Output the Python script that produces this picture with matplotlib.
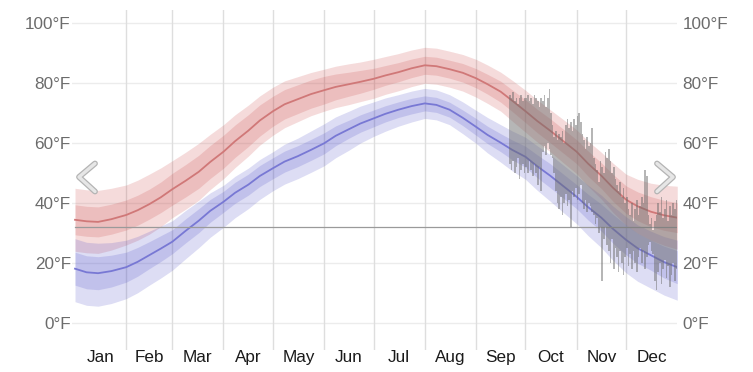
import numpy as np
import matplotlib.pyplot as plt
import matplotlib.patheffects as pe
from matplotlib.lines import Line2D

# day-of-year nodes (0 = Jan 1)
days = [0, 7, 14, 22, 31, 38, 45, 52, 59, 67, 75, 82, 90, 97, 105, 112, 120,
        127, 135, 143, 151, 158, 166, 173, 181, 188, 196, 204, 212, 219, 227,
        235, 243, 250, 258, 265, 273, 280, 288, 296, 304, 311, 319, 326, 334,
        341, 349, 357, 365]

# average daily high / low (deg F)
high_avg = [34.3, 33.8, 33.6, 34.5, 35.9, 37.5, 39.5, 41.8, 44.5, 47.3, 50.3,
            53.6, 57.0, 60.5, 64.0, 67.4, 70.5, 72.8, 74.5, 76.2, 77.5, 78.6,
            79.5, 80.3, 81.3, 82.4, 83.5, 84.8, 85.8, 85.5, 84.5, 83.3, 81.5,
            79.5, 77.0, 74.0, 70.5, 67.3, 64.0, 60.5, 57.0, 53.0, 49.0, 45.0,
            41.0, 38.8, 37.0, 35.8, 35.0]
low_avg = [18.0, 16.8, 16.5, 17.2, 18.5, 20.3, 22.5, 24.7, 27.0, 30.6, 34.0,
           37.3, 40.3, 43.3, 46.0, 48.9, 51.5, 53.7, 55.5, 57.6, 59.8, 62.3,
           64.5, 66.4, 68.1, 69.6, 71.0, 72.2, 73.1, 72.6, 71.0, 68.3, 65.3,
           62.6, 60.0, 57.6, 55.3, 52.2, 49.0, 45.5, 42.0, 38.5, 35.0, 31.3,
           27.6, 24.8, 22.5, 20.2, 18.5]

# band half widths: 10-90 (outer) and 25-75 (inner) percentile
high_outer = [10.5, 10.5, 10.5, 10.3, 10, 10, 10, 9.8, 9.5, 9.5, 9.5, 9.2, 9,
              8.8, 8.5, 8.2, 8, 7.8, 7.5, 7.2, 7, 6.9, 6.8, 6.6, 6.5, 6.3, 6.2,
              6.1, 6, 6, 6, 6.1, 6.3, 6.4, 6.5, 6.8, 7, 7, 7, 7.2, 7.3, 7.5,
              7.8, 8.2, 8.5, 9, 9.5, 10, 10.5]
high_inner = [5, 5, 5, 5, 5, 5, 5, 5.1, 5.3, 5.4, 5.5, 5.5, 5.5, 5.4, 5.3, 5.2,
              5, 4.9, 4.8, 4.7, 4.6, 4.3, 4, 3.8, 3.5, 3.3, 3.2, 3.1, 3, 3, 3,
              3.1, 3.2, 3.3, 3.5, 3.6, 3.8, 3.9, 4, 4, 4, 4.2, 4.3, 4.5, 4.6,
              4.8, 5, 5, 5]
low_outer_up = [10, 10, 10, 9.5, 9, 8.5, 8, 7.5, 7, 6.8, 6.5, 6, 5.5, 5.5, 5.5,
                5.5, 5.5, 5.8, 6, 6.3, 6.5, 6.3, 6, 5.8, 5.5, 5.3, 5, 5, 5, 5,
                5, 5.3, 5.5, 5.8, 6, 6.3, 6.5, 6.8, 7, 7, 7, 7.3, 7.5, 7.6, 7.7,
                7.8, 8, 8.5, 9]
low_outer_dn = [11, 11, 11, 10.8, 10.5, 10.3, 10, 9.8, 9.5, 9.3, 9, 8.8, 8.5,
                8.3, 8, 7.8, 7.5, 7.5, 7.5, 7.5, 7.5, 7.3, 7, 6.5, 6, 5.8, 5.5,
                5.3, 5, 5, 5, 5.3, 5.5, 6, 6.5, 7, 7.5, 8, 8.5, 8.8, 9, 9.5, 10,
                10.5, 11, 11, 11, 11, 11]
low_inner = [5.5, 5.5, 5.5, 5.3, 5, 4.8, 4.5, 4.3, 4, 4, 4, 3.8, 3.5, 3.5, 3.5,
             3.5, 3.5, 3.5, 3.5, 3.5, 3.5, 3.3, 3, 2.9, 2.8, 2.7, 2.6, 2.6, 2.5,
             2.5, 2.5, 2.6, 2.8, 2.9, 3, 3.3, 3.5, 3.8, 4, 4, 4, 4.3, 4.5, 4.8,
             5, 5, 5, 5.3, 5.5]

# observed daily high / low, Sep 21 (day 263) .. Dec 31 (day 364)
obs_start = 263
obs_hi = [76, 75, 77, 74, 75, 73, 75, 76, 74, 75,
          75, 76, 74, 75, 73, 76, 75, 74, 72, 75,
          74, 76, 72, 75, 78, 70, 66, 62, 64, 61,
          63, 62, 64, 60, 66, 68, 65, 67, 64, 68,
          66, 69, 70, 67, 63, 61, 58, 62, 59, 60,
          65, 55, 53, 51, 47, 54, 52, 50, 57, 55,
          58, 54, 50, 52, 48, 46, 44, 47, 42, 45,
          40, 42, 38, 36, 40, 34, 38, 41, 36, 39,
          42, 40, 51, 49, 36, 33, 35, 31, 34, 36,
          40, 37, 42, 35, 38, 41, 34, 39, 36, 40, 38, 41]
obs_lo = [53, 51, 54, 50, 52, 55, 48, 51, 53, 50,
          52, 50, 54, 51, 49, 53, 50, 46, 52, 44,
          57, 59, 56, 60, 58, 56, 55, 50, 44, 40,
          38, 42, 36, 40, 43, 39, 41, 32, 44, 42,
          45, 41, 43, 46, 40, 38, 41, 37, 40, 39,
          37, 36, 33, 35, 30, 32, 14, 28, 32, 26,
          24, 20, 28, 18, 25, 22, 17, 24, 20, 16,
          22, 25, 19, 23, 18, 24, 20, 17, 22, 25,
          20, 24, 18, 22, 26, 27, 24, 23, 14, 11,
          17, 20, 13, 18, 21, 15, 19, 12, 16, 20, 14, 18]

months = ["Jan", "Feb", "Mar", "Apr", "May", "Jun",
          "Jul", "Aug", "Sep", "Oct", "Nov", "Dec"]
month_len = [31, 28, 31, 30, 31, 30, 31, 31, 30, 31, 30, 31]
y_ticks = [0, 20, 40, 60, 80, 100]

plt.rcParams["font.family"] = ["Liberation Sans", "DejaVu Sans"]

W, H = 753, 372
fig = plt.figure(figsize=(W / 100, H / 100), dpi=100)
ax = fig.add_axes([72 / W, 1 - 350 / H, (677.25 - 72) / W, 340 / H])
ax.set_xlim(-1.818, 365)
ax.set_ylim(-9.1, 104.23)

d = np.array(days)
hi = np.array(high_avg)
lo = np.array(low_avg)
ho, hn = np.array(high_outer), np.array(high_inner)
lu, ld, ln = np.array(low_outer_up), np.array(low_outer_dn), np.array(low_inner)

# grid
for t in y_ticks:
    ax.axhline(t, color="#ececec", lw=1.0, zorder=0)
bounds = np.cumsum(month_len)[:-1]
for b in bounds:
    ax.axvline(b, color="#dedede", lw=1.0, zorder=0)

red = "#c83c3c"
blue = "#4b4bc8"
ax.fill_between(d, hi - ho, hi + ho, color=red, alpha=0.18, lw=0, zorder=1)
ax.fill_between(d, hi - hn, hi + hn, color=red, alpha=0.18, lw=0, zorder=1)
ax.fill_between(d, lo - ld, lo + lu, color=blue, alpha=0.19, lw=0, zorder=1)
ax.fill_between(d, lo - ln, lo + ln, color=blue, alpha=0.19, lw=0, zorder=1)
ax.plot(d, hi, color="#d07878", lw=1.3, zorder=2)
ax.plot(d, lo, color="#7878d4", lw=1.3, zorder=2)

# freezing line
ax.plot([0, 365], [32, 32], color="#9a9a9a", lw=0.9, zorder=3)

# observed daily ranges, one step per day
od = np.arange(obs_start, obs_start + len(obs_hi) + 1)
oh = np.append(obs_hi, obs_hi[-1])
ol = np.append(obs_lo, obs_lo[-1])
ax.fill_between(od, ol, oh, step="post", color="#6e6e6e", alpha=0.5,
                linewidth=0, zorder=4)

# ticks
centers = np.cumsum([0] + month_len[:-1]) + np.array(month_len) / 2
ax.set_xticks(centers)
ax.set_xticklabels(months)
ax.tick_params(axis="x", length=0, pad=0, labelsize=12.3, labelcolor="#1a1a1a")
ax.set_yticks(y_ticks)
ax.set_yticklabels([f"{t}°F" for t in y_ticks])
ax.tick_params(axis="y", length=0, pad=0.9, labelsize=12.3, labelcolor="#6b6b6b")
ax2 = ax.twinx()
ax2.set_ylim(ax.get_ylim())
ax2.set_yticks(y_ticks)
ax2.set_yticklabels([f"{t}°F" for t in y_ticks])
ax2.tick_params(axis="y", length=0, pad=3.6, labelsize=12.3, labelcolor="#6b6b6b")
for a in (ax, ax2):
    for s in a.spines.values():
        s.set_visible(False)


# navigation chevrons
def chevron(xs, ys):
    fx = [x / W for x in xs]
    fy = [1 - y / H for y in ys]
    line = Line2D(fx, fy, transform=fig.transFigure, color="#e6e6e6", lw=2.4,
                  solid_capstyle="round", solid_joinstyle="round", zorder=10,
                  path_effects=[pe.Stroke(linewidth=4.2, foreground="#b4b4b4",
                                          capstyle="round", joinstyle="round"),
                                pe.Normal()])
    fig.add_artist(line)


chevron([95, 79, 95], [163.5, 177, 191.5])
chevron([657, 673, 657], [163.5, 177, 191.5])

fig.savefig("out.png", dpi=100)
